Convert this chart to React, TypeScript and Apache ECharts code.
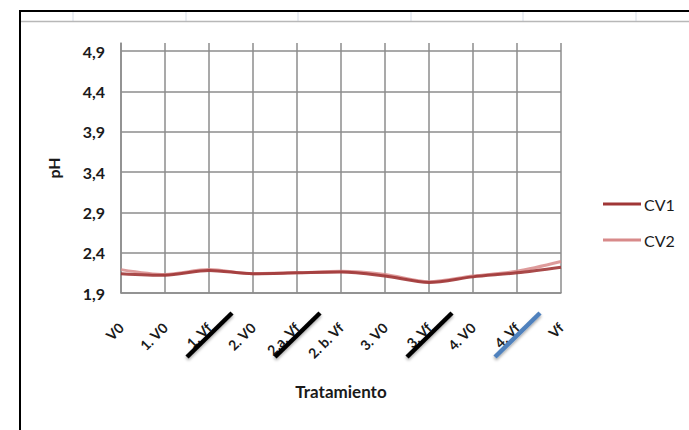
import React, { useEffect, useRef } from "react";
import * as echarts from "echarts";

const categories = ["V0", "1. V0", "1. Vf", "2. V0", "2.a. Vf", "2. b. Vf", "3. V0", "3. Vf", "4. V0", "4. Vf", "Vf"];
const cv1 = [2.14, 2.12, 2.18, 2.14, 2.15, 2.16, 2.11, 2.03, 2.1, 2.15, 2.22];
const cv2 = [2.19, 2.13, 2.19, 2.14, 2.15, 2.17, 2.13, 2.04, 2.11, 2.17, 2.29];
const yTicks = { min: 1.9, max: 5.0, interval: 0.5 };
const struckBlack = ["1. Vf", "2.a. Vf", "3. Vf"];
const struckBlue = ["4. Vf"];
const cellLinesX = [73, 186, 298, 411, 523, 636];

const FONT = "Lato";

export default function App() {
  const ref = useRef<HTMLDivElement>(null);
  useEffect(() => {
    if (!ref.current) return;
    const chart = echarts.init(ref.current, null, { renderer: "svg" });
    const option: any = {
      animation: false,
      backgroundColor: "#ffffff",
      textStyle: { fontFamily: FONT },
      grid: { left: 121, right: 128, top: 43, bottom: 137, containLabel: false },
      legend: {
        orient: "vertical",
        left: 598,
        top: 191,
        itemWidth: 38,
        itemHeight: 3,
        itemGap: 20,
        icon: "rect",
        textStyle: { fontFamily: FONT, fontSize: 16, color: "#1a1a1a", padding: [0, 0, 0, -2] },
        data: ["CV1", "CV2"],
      },
      xAxis: {
        type: "category",
        data: categories,
        boundaryGap: false,
        name: "Tratamiento",
        nameLocation: "middle",
        nameGap: 90,
        nameTextStyle: { fontFamily: FONT, fontSize: 17, fontWeight: "bold", color: "#1a1a1a" },
        axisLine: { show: true, lineStyle: { color: "#8c8c8c", width: 1.5 } },
        axisTick: { show: false },
        axisLabel: {
          rotate: 45,
          margin: 32,
          fontFamily: FONT,
          fontSize: 14,
          fontWeight: "bold",
          color: "#1a1a1a",
          interval: 0,
        },
        splitLine: { show: true, lineStyle: { color: "#8c8c8c", width: 1.5 } },
      },
      yAxis: {
        type: "value",
        min: yTicks.min,
        max: yTicks.max,
        interval: yTicks.interval,
        name: "pH",
        nameLocation: "middle",
        nameGap: 60,
        nameTextStyle: { fontFamily: FONT, fontSize: 16, fontWeight: "bold", color: "#1a1a1a" },
        axisLine: { show: true, lineStyle: { color: "#8c8c8c", width: 1.5 } },
        axisTick: { show: false },
        axisLabel: {
          margin: 16,
          fontFamily: FONT,
          fontSize: 16,
          fontWeight: "bold",
          color: "#1a1a1a",
          formatter: (v: number) => (Math.abs(v - yTicks.max) < 1e-6 ? "" : v.toFixed(1).replace(".", ",")),
        },
        splitLine: { show: true, showMaxLine: false, lineStyle: { color: "#8c8c8c", width: 1.5 } },
      },
      series: [
        {
          name: "CV1",
          type: "line",
          data: cv1,
          smooth: 0.3,
          symbol: "none",
          color: "#a03636",
          lineStyle: { width: 3, color: "#a03636", opacity: 0.9 },
          z: 3,
        },
        {
          name: "CV2",
          type: "line",
          data: cv2,
          smooth: 0.3,
          symbol: "none",
          color: "#d88a8a",
          lineStyle: { width: 3, color: "#d88a8a", opacity: 0.85 },
          z: 2,
        },
      ],
    };
    chart.setOption(option);

    const baseY = chart.convertToPixel({ yAxisIndex: 0 }, yTicks.min) as number;
    const slash = (cat: string, color: string) => {
      const x = chart.convertToPixel({ xAxisIndex: 0 }, cat) as number;
      return {
        type: "line",
        shape: { x1: x - 22, y1: baseY + 64, x2: x + 23, y2: baseY + 20 },
        style: {
          stroke: color,
          lineWidth: 4.5,
          shadowBlur: 3,
          shadowColor: "rgba(0,0,0,0.35)",
          shadowOffsetY: 2,
        },
        z: 100,
      };
    };
    const graphics: any[] = [];
    cellLinesX.forEach((x) => {
      graphics.push({
        type: "line",
        shape: { x1: x, y1: 11, x2: x, y2: 21 },
        style: { stroke: "#d5dce8", lineWidth: 1 },
        z: 50,
      });
    });
    graphics.push({
      type: "line",
      shape: { x1: 20, y1: 21.5, x2: 689, y2: 21.5 },
      style: { stroke: "#b8b8b8", lineWidth: 1.5 },
      z: 50,
    });
    graphics.push({
      type: "line",
      shape: { x1: 19, y1: 11, x2: 689, y2: 11 },
      style: { stroke: "#000000", lineWidth: 2 },
      z: 60,
    });
    graphics.push({
      type: "line",
      shape: { x1: 20, y1: 10, x2: 20, y2: 430 },
      style: { stroke: "#000000", lineWidth: 2 },
      z: 60,
    });
    struckBlack.forEach((c) => graphics.push(slash(c, "#000000")));
    struckBlue.forEach((c) => graphics.push(slash(c, "#4f81bd")));
    chart.setOption({ graphic: graphics });

    return () => chart.dispose();
  }, []);
  return (
    <div
      ref={ref}
      style={{ position: "fixed", left: 0, top: 0, width: 689, height: 430 }}
    />
  );
}
